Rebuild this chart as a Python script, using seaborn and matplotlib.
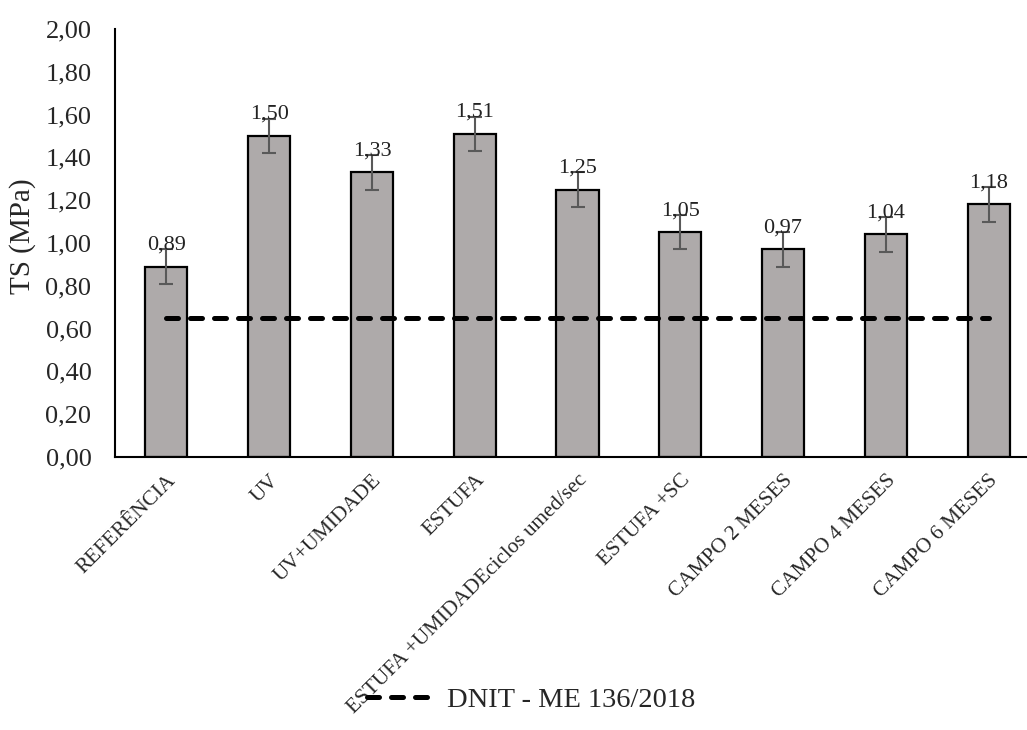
import matplotlib
matplotlib.use("Agg")
import matplotlib.pyplot as plt
import seaborn as sns
import numpy as np
from matplotlib.lines import Line2D

categories = ["REFERÊNCIA", "UV", "UV+UMIDADE", "ESTUFA",
              "ESTUFA +UMIDADEciclos umed/sec", "ESTUFA +SC",
              "CAMPO 2 MESES", "CAMPO 4 MESES", "CAMPO 6 MESES"]
ts_values = [0.89, 1.50, 1.33, 1.51, 1.25, 1.05, 0.97, 1.04, 1.18]
ts_errors = [0.08, 0.08, 0.08, 0.08, 0.08, 0.08, 0.08, 0.08, 0.08]
dnit_limit = [0.65] * len(categories)
y_ticks = [0.0, 0.2, 0.4, 0.6, 0.8, 1.0, 1.2, 1.4, 1.6, 1.8, 2.0]
legend_label = "DNIT - ME 136/2018"

sns.set_style("white")
plt.rcParams['font.family'] = ['Liberation Serif', 'DejaVu Serif']

fig = plt.figure(figsize=(10.27, 7.30), dpi=100)
ax = fig.add_axes([115/1027, 1-457/730, 925/1027, (457-29)/730])

sns.barplot(x=categories, y=ts_values, color="#AEAAAA", edgecolor="black",
            linewidth=1.6, width=0.41, saturation=1, ax=ax)
for p in ax.patches:
    p.set_facecolor("#AEAAAA")

xpos = np.arange(len(categories))
ax.errorbar(xpos, ts_values, yerr=ts_errors, fmt="none", ecolor="#595959",
            elinewidth=1.5, capsize=5, capthick=1.5, zorder=3)

ax.plot(xpos, dnit_limit, color="black", linewidth=3.6, dashes=(2.4, 2.4),
        dash_capstyle="round", zorder=4)

for x, v in zip(xpos, ts_values):
    ax.text(x, v + 0.08, f"{v:.2f}".replace(".", ","), ha="center", va="baseline",
            fontsize=16, color="#222222", zorder=5)

ax.set_xlim(-0.5, 8.5)
ax.set_ylim(0, 2.0)
ax.set_yticks(y_ticks)
ax.set_yticklabels([f"{t:.2f}".replace(".", ",") for t in y_ticks], fontsize=19)
ax.set_xticks(xpos)
ax.set_xticklabels(categories, rotation=45, ha="right", rotation_mode="anchor",
                   fontsize=15.3)
ax.tick_params(axis="x", length=0, pad=10)
ax.tick_params(axis="y", length=0, pad=17)
ax.set_ylabel("TS (MPa)", fontsize=21, labelpad=7)
ax.yaxis.label.set_y(0.515)

for s in ["top", "right"]:
    ax.spines[s].set_visible(False)
for s in ["left", "bottom"]:
    ax.spines[s].set_color("black")
    ax.spines[s].set_linewidth(1.5)

handle = Line2D([0], [0], color="black", linewidth=3.6, dashes=(2.4, 2.4),
                dash_capstyle="round")
fig.legend([handle], [legend_label], loc="center", bbox_to_anchor=(0.517, 0.041),
           frameon=False, fontsize=20.5, handlelength=2.3, handletextpad=0.5)

fig.savefig("out.png", dpi=100)
